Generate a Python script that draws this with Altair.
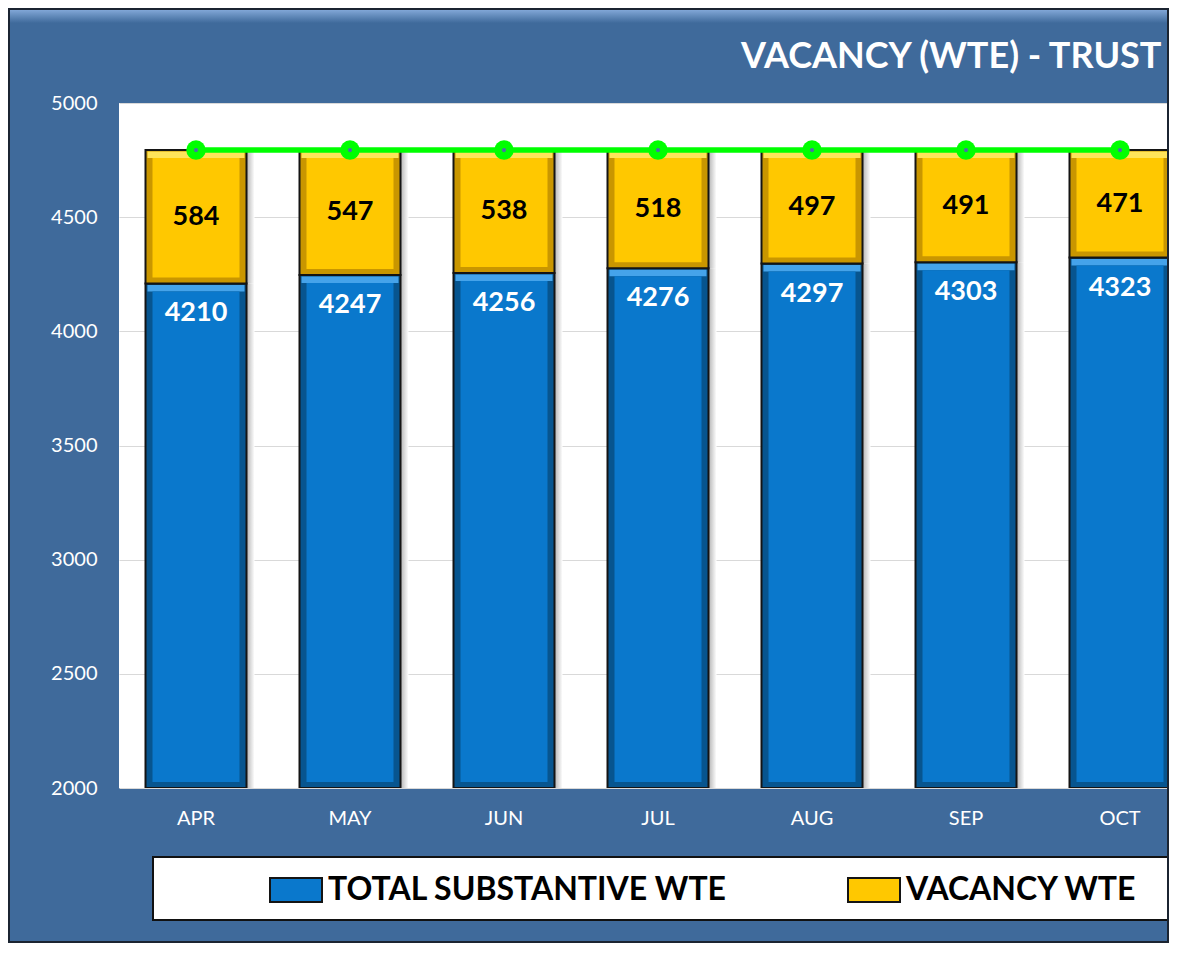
import altair as alt
import pandas as pd

# ---- data ----
months = ["APR", "MAY", "JUN", "JUL", "AUG", "SEP", "OCT"]
substantive = [4210, 4247, 4256, 4276, 4297, 4303, 4323]
vacancy = [584, 547, 538, 518, 497, 491, 471]
series_names = ["TOTAL SUBSTANTIVE WTE", "VACANCY WTE"]
y_ticks = [2000, 2500, 3000, 3500, 4000, 4500, 5000]
y_floor = 2000
y_top = 5000
title_text = "VACANCY (WTE) - TRUST"

rows = []
for m, s, v in zip(months, substantive, vacancy):
    rows.append({"month": m, "series": series_names[0], "lo": y_floor, "hi": s, "value": s})
    rows.append({"month": m, "series": series_names[1], "lo": s, "hi": s + v, "value": v})
df = pd.DataFrame(rows)
est = pd.DataFrame({"month": months,
                    "establishment": [s + v for s, v in zip(substantive, vacancy)]})

# ---- style ----
BG = "#3F6A9B"
BLUE, BLUE_D, BLUE_L = "#0A78CC", "#07558F", "#45A3EA"
YEL, YEL_D, YEL_L = "#FFC800", "#C99600", "#FFE45A"
FONT = "Lato"
PLOT_W, PLOT_H = 1050, 685
BAR = 101

is_vac = alt.datum.series == series_names[1]

x_enc = alt.X("month:N", sort=months,
              scale=alt.Scale(domain=months, paddingInner=0, paddingOuter=0, rangeMax=1078),
              axis=alt.Axis(labelColor="white", labelFont=FONT, labelFontSize=20,
                            labelPadding=20, ticks=False, domain=False, labelAngle=0,
                            title=None))
y_scale = alt.Scale(domain=[y_floor, y_top])
y_axis = alt.Axis(values=y_ticks, format="d", labelColor="white", labelFont=FONT,
                  labelFontSize=20, labelPadding=22, ticks=False, domain=False,
                  gridColor="#d9d9d9", gridWidth=1.2, title=None)


def Y(field):
    return alt.Y(field, scale=y_scale, axis=y_axis, title=None)


base = alt.Chart(df)

shadow = base.mark_bar(
    size=BAR, xOffset=8, clip=True,
    fill=alt.Gradient(gradient="linear", x1=0, x2=1, y1=0, y2=0,
                      stops=[alt.GradientStop(offset=0, color="#8f8f8f"),
                             alt.GradientStop(offset=0.9, color="#a0a0a0"),
                             alt.GradientStop(offset=1, color="#ffffff")])
).encode(x=x_enc, y=Y("hi:Q"), y2="lo:Q")

outer = base.mark_bar(size=BAR, clip=True, stroke="#141414", strokeWidth=2).encode(
    x=x_enc, y=Y("hi:Q"), y2="lo:Q",
    fill=alt.condition(is_vac, alt.value(YEL_D), alt.value(BLUE_D)))

highlight = base.mark_bar(size=BAR - 4, yOffset=1.5, y2Offset=8, clip=True).encode(
    x=x_enc, y=Y("hi:Q"), y2="hi:Q",
    fill=alt.condition(is_vac, alt.value(YEL_L), alt.value(BLUE_L)))

inner = base.mark_bar(size=BAR - 14, yOffset=8, y2Offset=-6, clip=True).encode(
    x=x_enc, y=Y("hi:Q"), y2="lo:Q",
    color=alt.Color("series:N",
                    scale=alt.Scale(domain=series_names, range=[BLUE, YEL]),
                    legend=alt.Legend(orient="none", legendX=150, legendY=760,
                                      direction="horizontal", title=None,
                                      symbolType="M-1,-0.46H1V0.46H-1Z", symbolSize=2704,
                                      symbolStrokeColor="#141414", symbolStrokeWidth=2,
                                      symbolOpacity=1,
                                      labelFont=FONT, labelFontSize=32, labelFontWeight="bold",
                                      labelColor="black", labelOffset=5, labelLimit=700,
                                      columnPadding=116, padding=0)))

vac_text = base.transform_filter(is_vac).transform_calculate(
    mid="(datum.lo + datum.hi) / 2"
).mark_text(font=FONT, fontWeight="bold", fontSize=27, color="black",
            baseline="middle").encode(x=x_enc, y=Y("mid:Q"), text="value:Q")

sub_text = base.transform_filter(~is_vac).mark_text(
    font=FONT, fontWeight="bold", fontSize=27, color="white", baseline="middle", dy=30
).encode(x=x_enc, y=Y("hi:Q"), text="value:Q")

est_base = alt.Chart(est)
line = est_base.mark_line(color="#00FF00", strokeWidth=5.5, clip=True).encode(
    x=x_enc, y=Y("establishment:Q"))
pts = est_base.mark_point(filled=True, shape="circle", size=380, color="#00FF00",
                          opacity=1).encode(x=x_enc, y=Y("establishment:Q"))
dots = est_base.mark_point(filled=True, shape="circle", size=18, color="#4A6FA8",
                           opacity=1).encode(x=x_enc, y=Y("establishment:Q"))

one = pd.DataFrame({"k": [0]})
legend_box = alt.Chart(one).mark_rect(fill="white", stroke="#111111", strokeWidth=2).encode(
    x=alt.value(34), x2=alt.value(1062), y=alt.value(754), y2=alt.value(817))
top_bevel = alt.Chart(one).mark_rect(
    fill=alt.Gradient(gradient="linear", x1=0, x2=0, y1=0, y2=1,
                      stops=[alt.GradientStop(offset=0, color="#86ABDB"),
                             alt.GradientStop(offset=1, color=BG)])
).encode(x=alt.value(-110), x2=alt.value(1049), y=alt.value(-94), y2=alt.value(-80))
frame = alt.Chart(one).mark_rect(fillOpacity=0, stroke="#1b2431", strokeWidth=2).encode(
    x=alt.value(-110), x2=alt.value(1049), y=alt.value(-94), y2=alt.value(839))

title_df = pd.DataFrame({"title": [title_text]})
title = alt.Chart(title_df).mark_text(
    align="left", baseline="alphabetic", color="white", font=FONT, fontSize=36,
    fontWeight="bold"
).encode(x=alt.value(622), y=alt.value(-35), text="title:N")

chart = alt.layer(
    top_bevel, legend_box, shadow, outer, highlight, inner, line, pts, dots,
    vac_text, sub_text, title, frame
).properties(
    width=PLOT_W, height=PLOT_H,
    padding={"left": 111, "top": 95, "right": 0, "bottom": 155},
    autosize=alt.AutoSizeParams(type="none"),
    background=BG,
).configure_view(fill="white", strokeWidth=0)

chart.save("out.html", embed_options={"renderer": "svg", "actions": False})
